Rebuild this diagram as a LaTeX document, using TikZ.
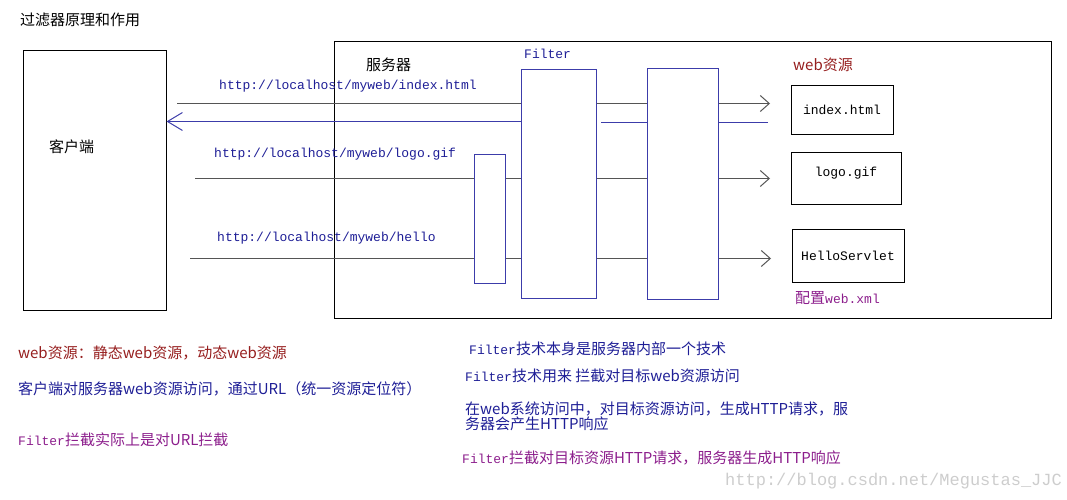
\documentclass[tikz,border=0pt]{standalone}
\usepackage{fontspec}
\usepackage{tikz}
\usetikzlibrary{arrows.meta}
\newfontfamily\cjk{Noto Sans CJK SC}
\newfontfamily\mono{Liberation Mono}
\newcommand{\asc}[1]{{\mono\fontsize{13}{13}\selectfont #1}}
\definecolor{fblue}{RGB}{60,60,170}
\definecolor{ublue}{RGB}{30,30,150}
\definecolor{lgray}{RGB}{85,85,85}
\definecolor{dred}{RGB}{150,30,30}
\definecolor{purp}{RGB}{140,30,140}
\definecolor{wmark}{RGB}{205,205,205}
\tikzstyle{fbox} = [rectangle, draw=fblue, line width=1pt, inner sep=0pt]
\tikzstyle{rbox} = [rectangle, draw, line width=1pt, inner sep=0pt, font=\mono\fontsize{13}{13}\selectfont]
\tikzstyle{reqline} = [draw=lgray, line width=1pt]
\tikzstyle{reqarrow} = [reqline, -{Straight Barb[length=9pt,width=16pt]}]
\tikzstyle{respline} = [draw=fblue, line width=1pt]
\tikzstyle{url} = [anchor=west, inner sep=0pt, text=ublue, font=\mono\fontsize{13}{13}\selectfont]
\tikzstyle{cn} = [anchor=west, inner sep=0pt, font=\cjk\fontsize{15}{16}\selectfont]

\begin{document}
\begin{tikzpicture}[x=1pt, y=-1pt]
    \useasboundingbox (0,0) rectangle (1067,500);

    \node[cn] (title) at (20,20) {过滤器原理和作用};

    \node[rectangle, draw, line width=1pt, minimum width=143pt, minimum height=259pt] (client) at (94.5,180.5) {};
    \node[cn] (clientlbl) at (49,147) {客户端};
    \node[rectangle, draw, line width=1pt, minimum width=717pt, minimum height=276pt] (server) at (692.5,180) {};
    \node[cn] (serverlbl) at (366,65) {服务器};

    \node[fbox, minimum width=31pt, minimum height=129pt] (f0) at (489.5,218.5) {};
    \node[fbox, minimum width=75pt, minimum height=228pt] (f1) at (558.5,184) {};
    \node[fbox, minimum width=71pt, minimum height=230pt] (f2) at (682.5,184) {};
    \node[url] (filterlbl) at (524,54) {Filter};

    \node[cn, text=dred] (webres) at (793,65) {web资源};
    \node[rbox, minimum width=102pt, minimum height=48pt] (index) at (842,110) {index.html};
    \node[rbox, minimum width=110pt, minimum height=52pt, text height=9pt, text depth=13pt] (logo) at (846,178) {logo.gif};
    \node[rbox, minimum width=112pt, minimum height=53pt] (hello) at (848,255.5) {HelloServlet};
    \node[cn, text=purp] (webxml) at (795,298) {配置\asc{web.xml}};

    \node[url] (u1) at (219,86) {http://localhost/myweb/index.html};
    \node[url] (u2) at (214,154) {http://localhost/myweb/logo.gif};
    \node[url] (u3) at (217,238) {http://localhost/myweb/hello};

    \coordinate (ireq) at (177,103.5);
    \coordinate (iend) at (770,103.5);
    \coordinate (iresp) at (768,122.5);
    \coordinate (lreq) at (195,178.5);
    \coordinate (lend) at (770,178.5);
    \coordinate (hreq) at (190,258.5);
    \coordinate (hend) at (771,258.5);

    \path[reqline] (ireq) -- (ireq -| f1.west);
    \path[reqline] (ireq -| f1.east) -- (ireq -| f2.west);
    \path[reqarrow] (ireq -| f2.east) -- (iend);

    \path[respline] (iresp) -- (iresp -| f2.east);
    \path[respline] (iresp -| f2.west) -- ([xshift=4pt]iresp -| f1.east);
    \path[respline, -{Straight Barb[length=15pt,width=18pt]}] ([yshift=1pt]iresp -| f1.west) -- ([yshift=1pt]iresp -| client.east);

    \path[reqline] (lreq) -- (lreq -| f0.west);
    \path[reqline] (lreq -| f0.east) -- (lreq -| f1.west);
    \path[reqline] (lreq -| f1.east) -- (lreq -| f2.west);
    \path[reqarrow] (lreq -| f2.east) -- (lend);

    \path[reqline] (hreq) -- (hreq -| f0.west);
    \path[reqline] (hreq -| f0.east) -- (hreq -| f1.west);
    \path[reqline] (hreq -| f1.east) -- (hreq -| f2.west);
    \path[reqarrow] (hreq -| f2.east) -- (hend);

    \node[cn, text=dred] (n1) at (18,353) {web资源：静态web资源，动态web资源};
    \node[cn, text=ublue] (n2) at (18,389) {客户端对服务器web资源访问，通过URL（统一资源定位符）};
    \node[cn, text=purp] (n3) at (18,440) {\asc{Filter}拦截实际上是对URL拦截};

    \node[cn, text=ublue] (n4) at (469,349) {\asc{Filter}技术本身是服务器内部一个技术};
    \node[cn, text=ublue] (n5) at (465,376) {\asc{Filter}技术用来 拦截对目标web资源访问};
    \node[cn, text=ublue, align=left, font=\cjk\fontsize{15}{15}\selectfont] (n6) at (465,416) {在web系统访问中，对目标资源访问，生成HTTP请求，服\\务器会产生HTTP响应};
    \node[cn, text=purp] (n7) at (462,458) {\asc{Filter}拦截对目标资源HTTP请求，服务器生成HTTP响应};

    \node[anchor=west, inner sep=0pt, text=wmark, font=\mono\fontsize{17}{17}\selectfont] (wm) at (725,481) {http://blog.csdn.net/Megustas\_JJC};
\end{tikzpicture}
\end{document}
